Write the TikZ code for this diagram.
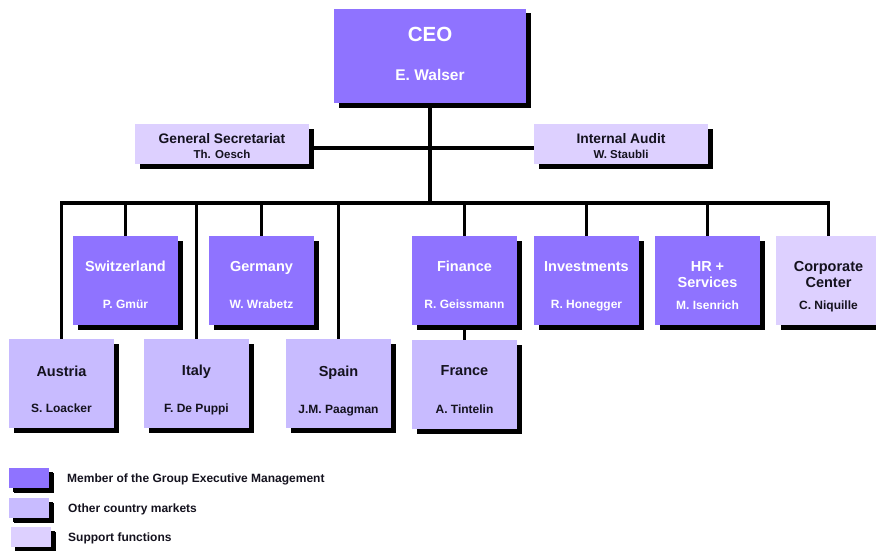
\documentclass[tikz,border=0pt]{standalone}
\usepackage{fontspec}
\setmainfont{Liberation Sans}
\usetikzlibrary{calc}
\definecolor{execc}{RGB}{143,115,255}
\definecolor{marketc}{RGB}{200,187,255}
\definecolor{supportc}{RGB}{221,208,255}
\definecolor{inkc}{RGB}{20,18,30}
\begin{document}
\begin{tikzpicture}[x=1pt,y=-1pt,
  unitbox/.style={rectangle, inner sep=0pt, outer sep=0pt,
    preaction={fill=black, transform canvas={shift={(4.5pt,-4.5pt)}}}},
  exec/.style={unitbox, fill=execc, minimum width=105pt, minimum height=89pt},
  market/.style={unitbox, fill=marketc, minimum width=105pt, minimum height=89pt},
  support/.style={unitbox, fill=supportc, minimum width=105pt, minimum height=89pt},
  staff/.style={unitbox, fill=supportc, minimum width=174pt, minimum height=40pt},
  txt/.style={inner sep=0pt, text depth=0pt},
  ttl/.style={txt, font=\bfseries\fontsize{14.5}{16}\selectfont, text height=10.4pt, align=center},
  who/.style={txt, font=\bfseries\fontsize{12}{14}\selectfont, text height=8.6pt},
  onexec/.style={text=white},
  onlight/.style={text=inkc},
  link/.style={line width=3.2pt},
  legtxt/.style={txt, font=\bfseries\fontsize{12}{14}\selectfont, text height=8.6pt, text=inkc, anchor=west},
  legbox/.style={unitbox, minimum width=40pt, minimum height=20pt,
    preaction={fill=black, transform canvas={shift={(4pt,-4pt)}}}}
]
\useasboundingbox (0,0) rectangle (876,551);
\clip (0,0) rectangle (876,551);

% top management
\node[unitbox, fill=execc, minimum width=192pt, minimum height=94pt] (ceo) at (430,56) {};
\node[staff] (gs) at (222,144) {};
\node[staff] (ia) at (621,144) {};

% second level
\node[exec] (sw) at (125.5,280.5) {};
\node[exec] (de) at (261.5,280.5) {};
\node[exec] (fin) at (464.5,280.5) {};
\node[exec] (inv) at (586.5,280.5) {};
\node[exec] (hr) at (707.5,280.5) {};
\node[support] (cc) at (828.5,280.5) {};

% country markets
\node[market] (at) at (61.5,383.5) {};
\node[market] (it) at (196.5,383.5) {};
\node[market] (es) at (338.5,383.5) {};
\node[market] (fr) at (464.5,384.5) {};

% connectors
\coordinate (busL) at (at.north |- 0,203);
\coordinate (busR) at (cc.north |- 0,203);
\coordinate (busC) at (ceo.south |- 0,203);
\draw[link] (ceo.south) -- (busC);
\draw[link, line cap=rect] (busL) -- (busR);
\draw[link] ($(gs.east)+(0,4)$) -- ($(ia.west)+(0,4)$);
\foreach \u in {at,sw,it,de,es,fin,inv,hr,cc}
  \draw[link] (\u.north |- busL) -- (\u.north);
\draw[link] (fin.south) -- (fr.north);

% labels
\path (ceo.north) ++(0,25) node[txt, font=\bfseries\fontsize{20.5}{22}\selectfont, text height=14.8pt, text=white] (ceo-t) {CEO};
\path (ceo.north) ++(0,66) node[txt, font=\bfseries\fontsize{15.5}{17}\selectfont, text height=11.1pt, text=white] (ceo-n) {E. Walser};

\path (gs.north) ++(0,15) node[ttl, onlight, font=\bfseries\fontsize{13.8}{15}\selectfont, text height=9.9pt] (gs-t) {General Secretariat};
\path (gs.north) ++(0,30.5) node[who, onlight, font=\bfseries\fontsize{11.5}{13}\selectfont, text height=8.2pt] (gs-n) {Th. Oesch};
\path (ia.north) ++(0,15) node[ttl, onlight, font=\bfseries\fontsize{13.8}{15}\selectfont, text height=9.9pt] (ia-t) {Internal Audit};
\path (ia.north) ++(0,30.5) node[who, onlight, font=\bfseries\fontsize{11.5}{13}\selectfont, text height=8.2pt] (ia-n) {W. Staubli};

\path (sw.north) ++(0,30) node[ttl, onexec] (sw-t) {Switzerland};
\path (sw.north) ++(0,68) node[who, onexec] (sw-n) {P. Gmür};
\path (de.north) ++(0,30) node[ttl, onexec] (de-t) {Germany};
\path (de.north) ++(0,68) node[who, onexec] (de-n) {W. Wrabetz};
\path (fin.north) ++(0,30) node[ttl, onexec] (fin-t) {Finance};
\path (fin.north) ++(0,68) node[who, onexec] (fin-n) {R. Geissmann};
\path (inv.north) ++(0,30) node[ttl, onexec] (inv-t) {Investments};
\path (inv.north) ++(0,68) node[who, onexec] (inv-n) {R. Honegger};
\path (hr.north) ++(0,46.5) node[ttl, onexec] (hr-t) {HR +\\Services};
\path (hr.north) ++(0,69) node[who, onexec] (hr-n) {M. Isenrich};
\path (cc.north) ++(0,46.5) node[ttl, onlight] (cc-t) {Corporate\\Center};
\path (cc.north) ++(0,69) node[who, onlight] (cc-n) {C. Niquille};

\path (at.north) ++(0,32) node[ttl, onlight] (at-t) {Austria};
\path (at.north) ++(0,69) node[who, onlight] (at-n) {S. Loacker};
\path (it.north) ++(0,31) node[ttl, onlight] (it-t) {Italy};
\path (it.north) ++(0,69) node[who, onlight] (it-n) {F. De Puppi};
\path (es.north) ++(0,32) node[ttl, onlight] (es-t) {Spain};
\path (es.north) ++(0,70) node[who, onlight] (es-n) {J.M. Paagman};
\path (fr.north) ++(0,30) node[ttl, onlight] (fr-t) {France};
\path (fr.north) ++(0,69) node[who, onlight] (fr-n) {A. Tintelin};

% legend
\node[legbox, fill=execc] (lg1) at (29,478) {};
\node[legbox, fill=marketc] (lg2) at (29,508) {};
\node[legbox, fill=supportc] (lg3) at (31,537) {};
\node[legtxt] (lg1-t) at (67,478) {Member of the Group Executive Management};
\node[legtxt] (lg2-t) at (68,508) {Other country markets};
\node[legtxt] (lg3-t) at (68,537) {Support functions};
\end{tikzpicture}
\end{document}
